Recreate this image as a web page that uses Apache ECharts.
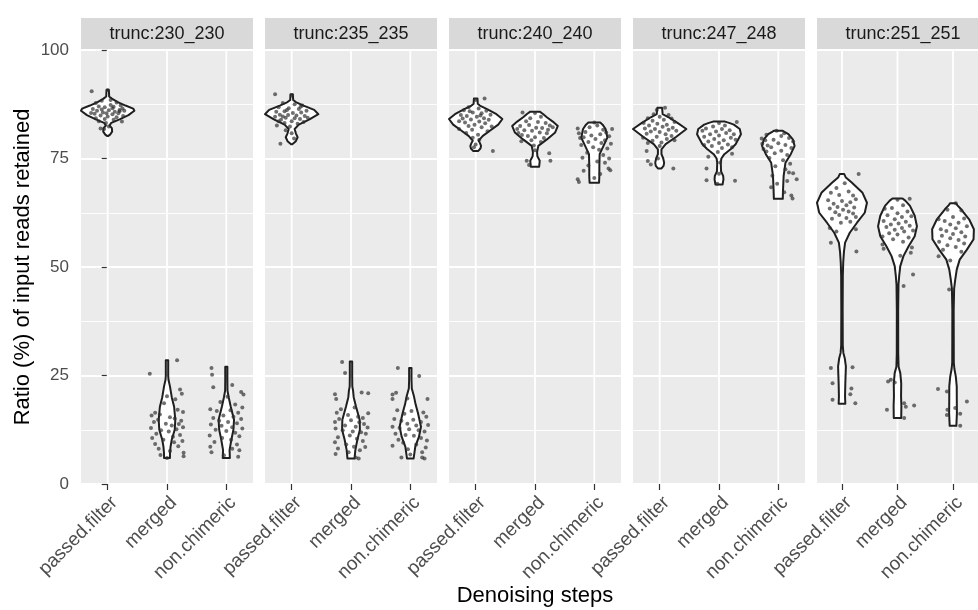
<!DOCTYPE html>
<html>
<head>
<meta charset="utf-8">
<script src="https://cdn.jsdelivr.net/npm/echarts@6/dist/echarts.min.js"></script>
<style>
  html, body { margin: 0; padding: 0; background: #ffffff; }
  #chart { width: 978px; height: 610px; }
</style>
</head>
<body>
<div id="chart"></div>
<script>
// ---- data -------------------------------------------------------------
const facetNames = ['trunc:230_230', 'trunc:235_235', 'trunc:240_240', 'trunc:247_248', 'trunc:251_251'];
const stepNames = ['passed.filter', 'merged', 'non.chimeric'];
const yTicks = [0, 25, 50, 75, 100];

// Violin outlines per step: [ratio %, half-width in category units]
const outline230 = [
  [[80.2,0.01],[80.5,0.04],[81.2,0.075],[82,0.07],[82.6,0.03],[83.2,0.06],[84,0.2],[85,0.35],[86,0.45],[86.5,0.43],[87.2,0.3],[88,0.17],[88.8,0.07],[89.3,0.025],[90.8,0.02]],
  [[6.0,0.05],[7,0.05],[8.6,0.06],[10.2,0.08],[12.5,0.13],[14.8,0.14],[17.8,0.12],[20,0.08],[22.5,0.05],[24,0.025],[25,0.02],[28.5,0.02]],
  [[6,0.06],[7.8,0.055],[10.2,0.085],[12.5,0.12],[14.8,0.13],[17.8,0.075],[20,0.04],[21.5,0.02],[24,0.018],[27,0.018]]
];
const outline235 = [
  [[78.3,0.01],[79,0.07],[79.9,0.1],[80.8,0.07],[81.8,0.05],[82.8,0.12],[84,0.3],[85.2,0.45],[86.2,0.38],[87.2,0.2],[88,0.07],[88.5,0.025],[89.8,0.02]],
  [[5.9,0.06],[7.8,0.073],[10.2,0.107],[12.5,0.15],[14.8,0.146],[17.8,0.085],[20,0.045],[21.5,0.035],[22.5,0.022],[25,0.02],[28.2,0.02]],
  [[5.9,0.056],[8.6,0.084],[10.9,0.146],[13.2,0.18],[16.3,0.13],[18.3,0.09],[20.3,0.06],[22,0.025],[24,0.02],[26.7,0.02]]
];
const outline240 = [
  [[76.7,0.04],[77.3,0.08],[77.9,0.09],[78.6,0.07],[79.1,0.05],[80.2,0.12],[81.5,0.25],[82.8,0.38],[84.1,0.45],[85.2,0.35],[86.3,0.2],[87.2,0.07],[87.6,0.035],[88.8,0.03]],
  [[73.1,0.07],[74.5,0.08],[75.5,0.04],[76.5,0.035],[77.9,0.056],[79.4,0.2],[81,0.34],[82.5,0.385],[83.5,0.3],[84.5,0.2],[85.3,0.13],[85.8,0.08]],
  [[69.4,0.08],[71,0.085],[73.3,0.085],[76,0.09],[77.9,0.155],[79.8,0.22],[81.8,0.19],[82.8,0.14],[83.3,0.1]]
];
const outline247 = [
  [[72.7,0.03],[73.3,0.065],[74,0.075],[75,0.06],[76,0.03],[77.1,0.03],[78.3,0.1],[80,0.28],[81.8,0.45],[83.2,0.3],[84.5,0.15],[85.2,0.05],[86.7,0.04]],
  [[69,0.06],[70.2,0.075],[71,0.07],[72,0.035],[74,0.03],[75,0.04],[76,0.09],[77.2,0.2],[78.3,0.28],[80.6,0.37],[81.8,0.35],[82.8,0.25],[83.2,0.17],[83.5,0.1]],
  [[65.7,0.075],[67.9,0.08],[71,0.09],[74,0.12],[76,0.21],[77.9,0.275],[79.4,0.245],[80.6,0.17],[81.1,0.11],[81.4,0.07]]
];
const outline251 = [
  [[18.5,0.06],[20.2,0.055],[23.2,0.06],[25,0.065],[27.1,0.07],[29,0.05],[30.2,0.025],[32,0.014],[40,0.012],[48,0.015],[51,0.022],[53.5,0.035],[55.6,0.056],[57.9,0.14],[60.2,0.27],[62.5,0.41],[64.8,0.45],[67.1,0.37],[69.4,0.18],[70.6,0.07],[71.4,0.04]],
  [[15.2,0.067],[17.9,0.07],[20.2,0.064],[23.2,0.067],[25.6,0.05],[27,0.02],[30,0.013],[40,0.012],[46,0.018],[47.9,0.03],[50.2,0.05],[52.5,0.107],[54.8,0.2],[57.1,0.31],[59.4,0.35],[61.8,0.31],[64.1,0.225],[65.3,0.14],[65.8,0.09]],
  [[13.4,0.06],[16.3,0.07],[19.4,0.068],[22.5,0.067],[24.8,0.05],[26.5,0.025],[28,0.014],[40,0.012],[45,0.02],[47.1,0.04],[49.4,0.067],[51.7,0.12],[54,0.25],[56.4,0.37],[58.7,0.376],[61,0.29],[63.3,0.146],[64.2,0.08],[64.7,0.05]]
];

// Samples per step: [horizontal jitter in category units, ratio %]
const points230 = [
  [[-0.27,90.5],[0.0,90.8],[-0.2,87.8],[-0.1,88.3],[0.05,88.5],[0.15,87.9],[0.22,87.2],[-0.15,87],[-0.05,86.8],[0.1,86.9],[0.25,86.5],[-0.25,86.4],[-0.18,86],[0.02,86.1],[0.12,85.8],[0.2,85.9],[-0.08,85.6],[-0.22,85.3],[0.08,85.2],[0.18,85.4],[-0.12,84.9],[0.0,84.7],[0.15,84.5],[-0.2,84.3],[0.26,84.8],[-0.05,84.1],[0.1,83.9],[-0.15,83.6],[0.24,83.5],[-0.28,85.5],[0.05,87.3],[-0.1,86.3],[0.2,86.2],[-0.12,81.9],[-0.06,81.8],[0.02,82.4],[-0.03,83.2],[0.08,86.6],[0.28,86],[-0.02,85.4]],
  [[-0.29,25.4],[0.17,28.5],[0.22,21.8],[0.25,20.8],[0.14,19.5],[0.0,20.2],[-0.05,18.6],[0.18,17.1],[0.27,16.6],[-0.2,16.4],[-0.26,15.8],[-0.12,16],[0.05,15.4],[0.13,15.1],[0.24,14.6],[-0.22,14.3],[-0.15,14.8],[-0.02,13.9],[0.08,13.5],[0.2,13.8],[0.27,13.1],[-0.27,12.9],[-0.1,12.4],[0.03,12.1],[0.16,12.6],[-0.18,11.6],[0.22,11.3],[-0.25,10.6],[0.1,10.9],[-0.06,10.2],[0.12,9.6],[0.26,9.9],[-0.2,9.2],[0.19,8.7],[-0.14,8.1],[0.05,7.6],[0.28,7.2],[-0.11,6.7],[0.28,6.4],[0.0,6.0]],
  [[-0.25,26.7],[-0.24,25.2],[-0.22,22.3],[0.1,22.8],[0.29,20.6],[0.25,21.2],[0.02,20.1],[-0.1,18.9],[0.15,18.3],[0.27,17.6],[-0.27,17.2],[-0.16,16.8],[0.07,17],[0.2,16.4],[-0.05,15.8],[0.12,15.5],[-0.22,15.2],[0.25,15],[-0.12,14.6],[0.03,14.3],[0.18,14],[-0.26,13.7],[-0.08,13.4],[0.1,13.1],[0.27,12.8],[-0.18,12.5],[0.0,12.2],[0.15,11.8],[-0.28,11.2],[0.22,11],[-0.07,10.6],[0.08,10.2],[-0.2,9.7],[0.18,9.1],[-0.27,8.6],[0.1,8.1],[-0.25,7.3],[0.22,7.8],[-0.04,6.6],[0.2,6.3]]
];
const points235 = [
  [[-0.28,89.8],[0.0,89.5],[-0.15,87.8],[0.05,87.5],[0.18,87.2],[-0.22,86.8],[-0.05,86.6],[0.12,86.4],[0.25,86],[-0.26,85.8],[-0.12,85.9],[0.02,85.5],[0.16,85.6],[-0.2,85.1],[-0.06,85],[0.08,84.9],[0.22,84.8],[-0.28,84.6],[-0.1,84.4],[0.05,84.3],[0.14,84.1],[-0.18,83.9],[0.0,83.6],[0.2,83.4],[-0.12,83.2],[0.1,83],[-0.25,82.6],[-0.03,82.4],[-0.1,81.5],[0.0,80.8],[-0.19,78.4],[0.04,79.6],[-0.08,86.2],[0.15,86.9],[-0.15,84.7],[0.27,84.4],[-0.22,83.6]],
  [[-0.15,28.1],[-0.1,25.6],[-0.27,20.7],[-0.25,19.6],[0.18,21.1],[0.29,20.9],[-0.17,17.2],[0.29,16.3],[-0.24,16.4],[0.06,17.6],[-0.05,15.9],[0.12,15.5],[0.2,15.2],[-0.2,15],[-0.27,14.3],[0.0,14.7],[0.14,14.2],[0.22,13.8],[-0.1,13.5],[0.08,13.2],[0.28,13],[-0.26,12.8],[-0.14,12.4],[0.03,12.1],[0.17,11.9],[-0.02,11.2],[0.25,11.6],[-0.22,10.8],[0.1,10.4],[-0.27,9.6],[0.2,9.9],[-0.08,9.1],[0.05,8.6],[-0.22,8.2],[0.24,8.5],[0.15,7.8],[-0.26,6.9],[0.08,6.1],[0.13,5.9],[-0.04,7.3]],
  [[-0.21,26.7],[0.15,24.9],[-0.3,20.6],[-0.24,21],[-0.3,19.6],[0.29,19.6],[-0.05,19.7],[-0.22,17],[0.02,16.8],[0.22,16.5],[-0.1,16.2],[0.27,15.5],[-0.27,15],[-0.15,14.6],[0.05,14.8],[0.18,14.3],[-0.05,13.9],[0.1,13.5],[0.3,13.6],[-0.3,13.2],[-0.18,12.9],[-0.02,12.6],[0.14,12.4],[0.24,12.1],[-0.25,11.6],[-0.08,11.3],[0.06,11.1],[0.18,10.6],[-0.2,10.2],[0.28,10],[-0.12,9.5],[0.1,9.1],[-0.3,8.8],[0.26,8.4],[-0.04,8],[0.2,7.3],[-0.15,6.1],[0.2,6.1],[0.24,5.9],[0.0,6.8]]
];
const points240 = [
  [[0.15,88.8],[0.0,88.5],[-0.12,86.8],[-0.2,86.1],[0.05,86.5],[0.18,86],[-0.05,85.6],[0.1,85.4],[0.25,85.1],[-0.25,85],[-0.15,84.8],[0.02,84.6],[0.14,84.3],[-0.08,84],[0.22,83.9],[-0.28,83.6],[-0.18,83.3],[0.06,83.5],[0.16,83.1],[-0.02,82.8],[-0.12,82.5],[0.1,82.2],[0.27,82.4],[-0.28,81.8],[-0.06,81.6],[0.2,81.3],[-0.16,80.9],[0.04,80.5],[-0.05,79.8],[0.06,79.3],[0.29,76.7],[-0.03,77.6],[0.0,78.2],[-0.1,85.9],[0.08,84.9],[-0.22,84.2]],
  [[-0.21,85.6],[0.0,85.5],[0.1,84.6],[-0.08,84.3],[-0.15,83.6],[0.05,83.4],[0.18,83.2],[0.25,82.6],[-0.25,82.5],[-0.1,82.7],[0.02,82.1],[0.12,82],[0.3,82.2],[-0.3,81.8],[-0.18,81.5],[-0.05,81.4],[0.08,81],[0.2,80.8],[-0.22,80.4],[-0.12,80.2],[0.0,79.9],[0.15,79.7],[-0.23,79],[-0.06,79.2],[0.1,78.8],[0.24,76.2],[0.26,74.5],[-0.14,74.5],[-0.1,73.5],[0.0,76.9],[-0.02,78],[0.22,81.6],[-0.28,80.9]],
  [[-0.28,81.9],[-0.26,80.8],[-0.24,79.7],[-0.28,70.2],[-0.26,69.6],[0.24,72.7],[0.27,72.3],[0.3,81.8],[0.0,83.3],[0.05,82.6],[-0.08,82.2],[0.15,81.6],[0.2,81],[-0.15,81.1],[0.1,80.6],[-0.05,80.3],[0.25,80.1],[-0.18,79.9],[0.02,79.5],[0.18,79.2],[-0.1,78.8],[0.12,78.6],[0.28,78.4],[-0.22,78.1],[-0.02,77.6],[0.22,77.3],[0.08,77],[-0.12,76.3],[0.15,75.8],[-0.2,75.2],[0.25,75],[0.05,74.3],[-0.1,73.4],[0.18,74],[-0.18,72.2],[0.1,71.4],[0.0,70.5]]
];
const points247 = [
  [[0.09,86.7],[-0.05,86.2],[-0.1,85.2],[0.15,85],[0.0,84.6],[-0.2,84.3],[0.2,84.2],[0.07,83.9],[-0.12,83.7],[0.25,83.4],[-0.27,83.2],[-0.04,83],[0.12,82.8],[-0.18,82.6],[0.05,82.3],[0.22,82.1],[-0.25,81.9],[-0.08,81.8],[0.15,81.6],[0.28,81.4],[-0.15,81.2],[0.0,81.1],[-0.22,80.7],[0.1,80.6],[0.2,80.2],[-0.05,80],[-0.28,79.8],[0.12,79.5],[-0.12,79.1],[0.03,78.7],[0.25,79.2],[-0.2,78.6],[-0.22,76.7],[-0.2,74.4],[-0.15,73.6],[0.23,72.7],[0.0,77.9],[-0.03,75]],
  [[0.3,83.4],[-0.21,72.7],[-0.21,70],[0.27,69.9],[-0.18,75.4],[0.22,76.1],[0.0,83.2],[-0.1,82.4],[0.1,82.6],[-0.22,81.9],[0.05,81.8],[0.18,81.5],[-0.05,81.2],[-0.28,81.4],[0.12,80.9],[0.25,80.6],[-0.15,80.6],[0.0,80.3],[-0.25,80],[0.2,79.8],[-0.08,79.5],[0.08,79.2],[0.28,79.3],[-0.18,78.9],[0.0,78.6],[0.15,78.2],[-0.12,77.9],[0.05,77.4],[-0.25,78.1],[0.22,77.6],[-0.02,76.5],[0.02,74.1],[0.0,71.5],[-0.03,69.2]],
  [[-0.03,81.4],[0.1,80.8],[-0.2,80.5],[-0.28,79.6],[-0.22,79.2],[-0.27,78.4],[-0.18,78],[-0.25,77.2],[-0.2,76.6],[0.05,80.2],[0.18,79.7],[-0.08,79.3],[0.25,78.9],[0.0,78.5],[0.12,78.1],[-0.12,77.6],[0.22,77.4],[0.05,76.8],[-0.06,76.2],[0.15,75.8],[-0.15,75.1],[0.08,74.6],[0.2,73.8],[-0.05,73.2],[0.12,72.5],[0.25,71.6],[-0.1,71],[0.31,70.2],[0.15,69.8],[-0.12,68.4],[0.22,66.5],[0.1,67.2],[0.24,65.8],[-0.02,69.2],[0.18,71.8]]
];
const points251 = [
  [[0.3,71.4],[0.05,69.3],[-0.1,68.2],[-0.2,67.1],[0.12,67.4],[0.2,66.5],[-0.05,66.6],[0.25,65.6],[-0.25,65.4],[0.0,65.2],[0.15,64.9],[-0.15,64.6],[0.08,64.2],[-0.08,63.8],[0.22,63.7],[-0.22,63.5],[0.02,63.2],[0.12,62.8],[-0.12,62.6],[0.2,62.3],[-0.05,62],[0.25,61.5],[0.08,61.3],[-0.18,61.1],[0.15,60.4],[-0.02,60.2],[-0.22,59],[0.25,58.7],[-0.2,55.6],[0.26,53.6],[-0.1,58.2],[-0.2,26.7],[0.19,26.9],[-0.17,23.2],[0.17,22],[0.15,20.7],[-0.17,19.4],[0.24,18.6]],
  [[0.22,65.7],[0.0,65.5],[-0.23,63.4],[0.1,64.2],[-0.1,63.6],[0.18,62.8],[0.0,62.4],[-0.18,61.9],[0.25,61.7],[0.08,61.5],[-0.05,61],[-0.25,60.6],[0.15,60.4],[0.02,60],[-0.12,59.8],[0.22,59.5],[-0.2,59.2],[0.08,59],[-0.05,58.6],[0.12,58.2],[0.28,58.4],[-0.15,57.8],[0.0,57.5],[-0.27,57],[0.2,56.8],[-0.08,56.4],[0.1,55.8],[-0.27,55.2],[-0.25,54.2],[0.26,54.5],[0.24,53.3],[0.05,52.6],[0.28,48.3],[0.11,45.6],[-0.17,23.6],[-0.12,24],[-0.05,23.4],[-0.19,17.1],[0.12,18.6],[0.15,17.8],[0.3,18.1],[0.12,15.2]],
  [[0.05,64.7],[-0.1,63.2],[0.15,63],[-0.26,61],[0.0,61.5],[0.2,61.2],[-0.15,60.6],[0.1,60.2],[-0.05,59.8],[0.25,59.4],[-0.22,58.7],[0.05,58.9],[-0.12,58.3],[0.15,58],[0.0,57.6],[-0.2,57.2],[0.22,57],[-0.05,56.6],[0.1,56.2],[-0.25,55.8],[0.2,55.4],[-0.1,55],[0.05,54.6],[-0.18,54],[0.15,53.5],[-0.26,52.5],[-0.05,51.5],[-0.07,44.8],[-0.27,21.9],[-0.11,21.3],[-0.1,17.1],[-0.11,15.9],[0.04,17.5],[0.13,16.2],[0.13,13.4],[0.25,19]]
];

const outlines = [outline230, outline235, outline240, outline247, outline251];
const samples = [points230, points235, points240, points247, points251];

// ---- layout -----------------------------------------------------------
const FONT = '"Liberation Sans", Arial, Helvetica, sans-serif';
const PANEL_LEFT = 81, PANEL_STEP = 184, PANEL_W = 172;
const PANEL_TOP = 50, PANEL_H = 434;
const STRIP_TOP = 18, STRIP_H = 32;

const grids = [], xAxes = [], yAxes = [], series = [], graphics = [];

facetNames.forEach((name, fi) => {
  const left = PANEL_LEFT + fi * PANEL_STEP;
  grids.push({
    left: left, top: PANEL_TOP, width: PANEL_W, height: PANEL_H,
    show: true, backgroundColor: '#EBEBEB', borderWidth: 0, containLabel: false
  });

  xAxes.push({
    type: 'value', gridIndex: fi, min: -0.45, max: 2.45,
    axisLine: { show: false },
    splitLine: { show: false },
    axisTick: { show: true, customValues: [0, 1, 2], length: 6, lineStyle: { color: '#333333', width: 1.2 } },
    axisLabel: {
      customValues: [0, 1, 2],
      formatter: v => stepNames[Math.round(v)],
      rotate: 45, align: 'right', verticalAlign: 'top', margin: 9,
      fontSize: 19, color: '#4D4D4D', fontFamily: FONT
    }
  });

  yAxes.push({
    type: 'value', gridIndex: fi, min: yTicks[0], max: yTicks[yTicks.length - 1], interval: 25,
    axisLine: { show: false },
    axisTick: { show: fi === 0, length: 6, lineStyle: { color: '#333333', width: 1.2 } },
    axisLabel: { show: fi === 0, fontSize: 17, color: '#4D4D4D', margin: 12, fontFamily: FONT },
    splitLine: { show: true, lineStyle: { color: '#FFFFFF', width: 1.8 } },
    minorTick: { show: false, splitNumber: 2 },
    minorSplitLine: { show: true, lineStyle: { color: '#FFFFFF', width: 0.9 } },
    name: fi === 0 ? 'Ratio (%) of input reads retained' : '',
    nameLocation: 'middle', nameGap: 47,
    nameTextStyle: { fontSize: 22, color: '#000000', fontFamily: FONT }
  });

  // vertical major grid lines at each step
  series.push({
    type: 'custom', xAxisIndex: fi, yAxisIndex: fi, z: 1, silent: true,
    data: stepNames.map((s, k) => [k]),
    encode: { x: 0 },
    renderItem: (params, api) => {
      const x = api.value(0);
      const a = api.coord([x, yTicks[0]]);
      const b = api.coord([x, yTicks[yTicks.length - 1]]);
      return { type: 'line', shape: { x1: a[0], y1: a[1], x2: b[0], y2: b[1] },
               style: { stroke: '#FFFFFF', lineWidth: 1.8 } };
    }
  });

  // violins
  series.push({
    type: 'custom', xAxisIndex: fi, yAxisIndex: fi, z: 3, silent: true,
    data: stepNames.map((s, k) => [k]),
    encode: { x: 0 },
    renderItem: (params, api) => {
      const k = api.value(0);
      const prof = outlines[fi][k];
      const leftSide = prof.map(([v, w]) => api.coord([k - w, v]));
      const rightSide = prof.slice().reverse().map(([v, w]) => api.coord([k + w, v]));
      return { type: 'polygon', shape: { points: leftSide.concat(rightSide) },
               style: { fill: '#FFFFFF', stroke: '#1F1F1F', lineWidth: 2, lineJoin: 'round' } };
    }
  });

  // jittered samples
  const pts = [];
  samples[fi].forEach((grp, k) => grp.forEach(([dx, v]) => pts.push([k + dx, v])));
  series.push({
    type: 'scatter', xAxisIndex: fi, yAxisIndex: fi, z: 4, silent: true,
    symbol: 'circle', symbolSize: 4,
    itemStyle: { color: 'rgba(45,45,45,0.85)' },
    data: pts
  });

  // facet strip
  graphics.push({
    type: 'rect', silent: true, z: 0,
    shape: { x: left, y: STRIP_TOP, width: PANEL_W, height: STRIP_H },
    style: { fill: '#D9D9D9' }
  });
  graphics.push({
    type: 'text', silent: true, z: 1,
    x: left + PANEL_W / 2, y: STRIP_TOP + STRIP_H / 2,
    style: { text: name, fontSize: 18, fill: '#1A1A1A', align: 'center', verticalAlign: 'middle', fontFamily: FONT }
  });
});

// x axis title
graphics.push({
  type: 'text', silent: true,
  x: PANEL_LEFT + (facetNames.length * PANEL_STEP - (PANEL_STEP - PANEL_W)) / 2, y: 596,
  style: { text: 'Denoising steps', fontSize: 22, fill: '#000000', align: 'center', verticalAlign: 'middle', fontFamily: FONT }
});

const chart = echarts.init(document.getElementById('chart'), null, { renderer: 'canvas' });
chart.setOption({
  backgroundColor: '#FFFFFF',
  animation: false,
  textStyle: { fontFamily: FONT },
  grid: grids,
  xAxis: xAxes,
  yAxis: yAxes,
  series: series,
  graphic: graphics
});
</script>
</body>
</html>
